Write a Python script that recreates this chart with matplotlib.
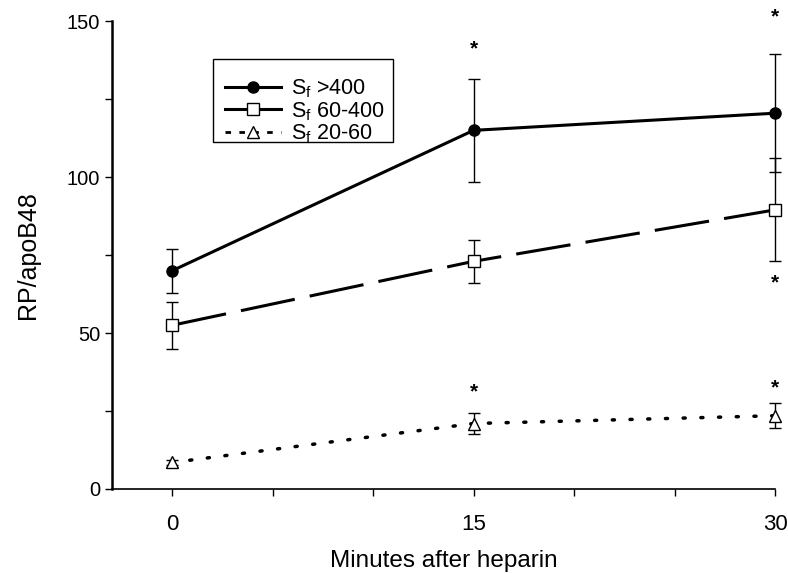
import matplotlib.pyplot as plt
from matplotlib.lines import Line2D
from matplotlib.patches import Rectangle

plt.rcParams['font.family'] = ['Liberation Sans', 'DejaVu Sans']

minutes = [0, 15, 30]

# Sf >400
big_mean = [70, 115, 120.5]
big_err = [7, 16.5, 19]
# Sf 60-400
mid_mean = [52.5, 73, 89.5]
mid_err = [7.5, 7, 16.5]
# Sf 20-60
small_mean = [8.5, 21, 23.5]
small_err = [0.8, 3.5, 4]

# significance stars (x, y)
star_x = [15, 30, 30, 15, 30]
star_y = [141, 151.5, 66, 31, 32.5]

fig = plt.figure(figsize=(7.88, 5.73), dpi=100)
ax = fig.add_axes([0.142, 0.1466, 0.8415, 0.8164])

conts = []
conts.append(ax.errorbar(minutes, big_mean, yerr=big_err, color='black', lw=2.2,
                         marker='o', ms=8, mfc='black', mec='black',
                         ecolor='black', elinewidth=1, capsize=4, capthick=1,
                         zorder=3))
conts.append(ax.errorbar(minutes, mid_mean, yerr=mid_err, color='black', lw=2.2,
                         dashes=(18, 5), marker='s', ms=8, mfc='white',
                         mec='black', mew=1, ecolor='black', elinewidth=1,
                         capsize=4, capthick=1, zorder=3))
conts.append(ax.errorbar(minutes, small_mean, yerr=small_err, color='black',
                         lw=2.5, dashes=(0.6, 4.5), dash_capstyle='round',
                         marker='^', ms=8, mfc='white', mec='black', mew=1,
                         ecolor='black', elinewidth=1, capsize=4, capthick=1,
                         zorder=3))
for c in conts:
    for art in [c[0]] + list(c[1]) + list(c[2]):
        art.set_clip_on(False)

for sx, sy in zip(star_x, star_y):
    ax.text(sx, sy, '*', ha='center', va='center', fontsize=15,
            fontweight='bold', clip_on=False)

ax.set_xlim(-3, 30)
ax.set_ylim(0, 150)
ax.set_xticks([0, 15, 30])
ax.set_xticks([5, 10, 20, 25], minor=True)
ax.set_yticks([0, 50, 100, 150])
ax.set_yticks([25, 75, 125], minor=True)
ax.tick_params(which='both', direction='out', length=5, width=1, labelsize=14.5)
ax.tick_params(axis='x', pad=13, labelsize=16)
ax.spines['top'].set_visible(False)
ax.spines['right'].set_visible(False)
ax.spines['left'].set_linewidth(1.8)
ax.spines['bottom'].set_linewidth(1.2)

ax.set_xlabel('Minutes after heparin', fontsize=17.5, labelpad=11)
ax.set_ylabel('RP/apoB48', fontsize=18, labelpad=19)

# legend box
ax.add_patch(Rectangle((0.152, 0.741), 0.272, 0.178, transform=ax.transAxes,
                       fill=False, edgecolor='black', lw=1, zorder=4))

handles = [
    Line2D([], [], color='black', lw=2.2, marker='o', ms=8, mfc='black'),
    Line2D([], [], color='black', lw=2.2, marker='s', ms=8, mfc='white'),
    Line2D([], [], color='black', lw=2, ls=(0, (2, 3)), marker='^', ms=8,
           mfc='white'),
]
labels = ['S$_\\mathregular{f}$ >400', 'S$_\\mathregular{f}$ 60-400',
          'S$_\\mathregular{f}$ 20-60']
ax.legend(handles, labels, loc='upper left',
          bbox_to_anchor=(0.17, 0.88), borderaxespad=0, borderpad=0,
          fontsize=15.5, frameon=False, handlelength=2.6,
          labelspacing=0.0, handletextpad=0.5)

fig.savefig('out.png', dpi=100)
